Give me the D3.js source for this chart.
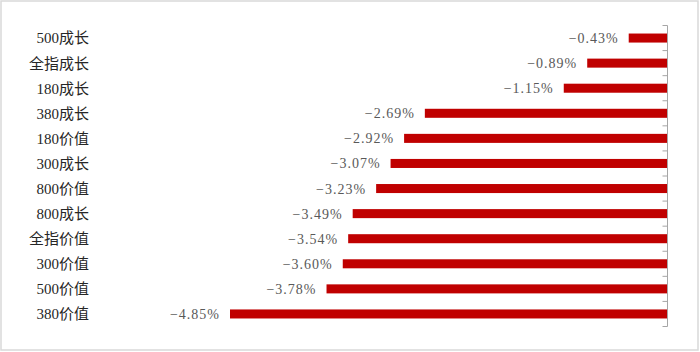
<!DOCTYPE html>
<html><head><meta charset="utf-8">
<script src="https://cdn.jsdelivr.net/npm/d3@7"></script>
<style>body{margin:0;background:#fff}</style>
</head><body>
<svg id="c" width="700" height="352"></svg>
<script>
const categories = ["500成长","全指成长","180成长","380成长","180价值","300成长","800价值","800成长","全指价值","300价值","500价值","380价值"];
const values = [-0.43,-0.89,-1.15,-2.69,-2.92,-3.07,-3.23,-3.49,-3.54,-3.60,-3.78,-4.85];
const valueLabels = ["−0.43%","−0.89%","−1.15%","−2.69%","−2.92%","−3.07%","−3.23%","−3.49%","−3.54%","−3.60%","−3.78%","−4.85%"];

const svg = d3.select("#c");
svg.append("rect").attr("x",1).attr("y",1).attr("width",697).attr("height",349)
  .attr("fill","#fff").attr("stroke","#d9d9d9").attr("stroke-width",1.5);

const x = d3.scaleLinear().domain([-4.85,0]).range([230,667.5]);
const y = d3.scaleBand().domain(categories).range([25.5,326.5]).paddingInner(0.64).paddingOuter(0.32);
const yb = d3.scaleBand().domain(categories).range([25.5,326.5]);

const font = "'Liberation Serif','Noto Sans CJK SC',serif";

svg.selectAll("rect.bar").data(values).join("rect").attr("class","bar")
  .attr("x",d=>x(d)).attr("width",d=>x(0)-x(d))
  .attr("y",(d,i)=>y(categories[i])).attr("height",y.bandwidth())
  .attr("fill","#c00000");

const ag = svg.append("g");
ag.append("line").attr("x1",x(0)).attr("x2",x(0)).attr("y1",yb.range()[0]).attr("y2",yb.range()[1])
  .attr("stroke","#a6a6a6").attr("stroke-width",1);
const tickYs = categories.map(c=>yb(c)).concat([yb.range()[1]]);
ag.selectAll("line.t").data(tickYs).join("line").attr("class","t")
  .attr("x1",x(0)-5).attr("x2",x(0)).attr("y1",d=>d).attr("y2",d=>d)
  .attr("stroke","#a6a6a6").attr("stroke-width",1);

svg.selectAll("text.cat").data(categories).join("text").attr("class","cat")
  .attr("x",89).attr("y",d=>yb(d)+yb.bandwidth()/2).attr("dy","0.36em")
  .attr("text-anchor","end").attr("font-family",font).attr("font-size",15)
  .attr("fill","#262626").text(d=>d);

svg.selectAll("text.val").data(values).join("text").attr("class","val")
  .attr("x",d=>x(d)-10).attr("y",(d,i)=>yb(categories[i])+yb.bandwidth()/2).attr("dy","0.36em")
  .attr("text-anchor","end").attr("font-family",font).attr("font-size",14)
  .attr("letter-spacing","1px")
  .attr("fill","#595959").text((d,i)=>valueLabels[i]);
</script>
</body></html>
